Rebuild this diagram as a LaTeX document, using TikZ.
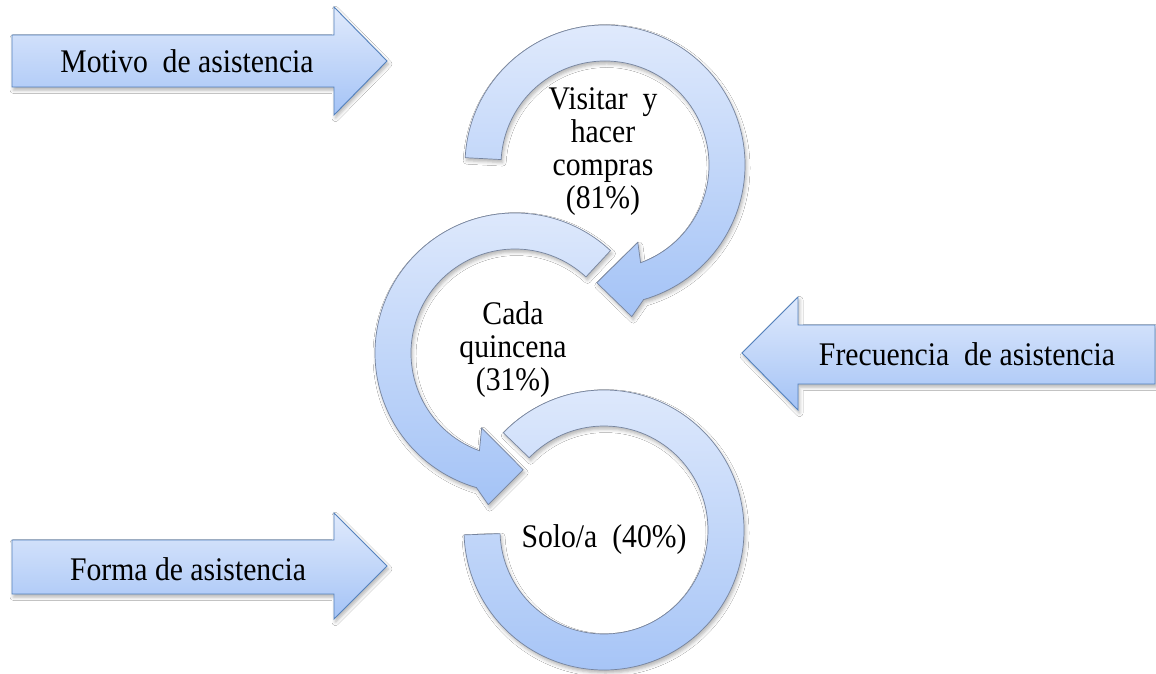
\documentclass[tikz,border=0pt]{standalone}
\usepackage{fontspec}
\setmainfont{Liberation Serif}[FakeStretch=0.9]
\usetikzlibrary{shadows.blur}

\definecolor{fillTop}{RGB}{224,234,252}
\definecolor{fillBot}{RGB}{164,195,246}
\definecolor{edgeBlue}{RGB}{84,130,190}
\definecolor{edgeGray}{RGB}{118,132,158}

\tikzset{
  softshadow/.style={blur shadow={shadow xshift=1.5pt, shadow yshift=-3pt,
      shadow blur radius=3.5pt, shadow opacity=30}},
  flatarrow/.style={top color=fillTop, bottom color=fillBot, draw=edgeBlue,
      line width=0.9pt, line join=miter, softshadow},
  ringarrow/.style={top color=fillTop, bottom color=fillBot, draw=edgeGray,
      line width=0.7pt, line join=miter, softshadow},
  lbl/.style={font=\fontsize{33}{33}\selectfont, inner sep=0pt, align=center}
}

\begin{document}
\begin{tikzpicture}[x=1pt,y=1pt]
  \useasboundingbox (0,0) rectangle (1156,-674);
  \fill[white] (0,0) rectangle (1156,-674);

  % block arrows on the sides
  \draw[flatarrow] (12,-35) -- (334,-35) -- (334,-7) -- (387,-61)
    -- (334,-115) -- (334,-87) -- (12,-87) -- cycle;
  \draw[flatarrow] (12,-540) -- (334,-540) -- (334,-513) -- (387,-566)
    -- (334,-619) -- (334,-594) -- (12,-594) -- cycle;
  \draw[flatarrow] (1155,-325) -- (798,-325) -- (798,-297) -- (742,-353)
    -- (798,-410) -- (798,-384) -- (1155,-384) -- cycle;

  % first ring: clockwise, head pointing down-left
  \draw[ringarrow, shift={(605,-165)}] (177:140)
    arc[start angle=177, end angle=-74, radius=140]
    -- (-80:154) -- (-94:118) -- (-67:84) -- (-70:104)
    arc[start angle=-70, end angle=177, radius=104] -- cycle;

  % second ring: counter-clockwise, head pointing down-right
  \draw[ringarrow, shift={(515,-353)}] (47:140)
    arc[start angle=47, end angle=254, radius=140]
    -- (260:154) -- (274:117) -- (246:82) -- (250:104)
    arc[start angle=250, end angle=47, radius=104] -- cycle;

  % third ring: open band without head
  \draw[ringarrow, shift={(604,-530)}] (136:140)
    arc[start angle=136, end angle=-178, radius=140]
    -- (-178:104)
    arc[start angle=-178, end angle=136, radius=104] -- cycle;

  % labels (base anchor sits on the last line of a multi-line node)
  \node[lbl, anchor=base] (motivo) at (187,-73) {Motivo\ \ de asistencia};
  \node[lbl, anchor=base] (forma) at (188,-580) {Forma de asistencia};
  \node[lbl, anchor=base] (frecuencia) at (967,-365) {Frecuencia\ \ de asistencia};
  \node[lbl, anchor=base] (visitar) at (603,-208) {Visitar\ \ y\\hacer\\compras\\(81\%)};
  \node[lbl, anchor=base] (cada) at (513,-390) {Cada\\quincena\\(31\%)};
  \node[lbl, anchor=base] (solo) at (604,-547) {Solo/a\ \ (40\%)};
\end{tikzpicture}
\end{document}
